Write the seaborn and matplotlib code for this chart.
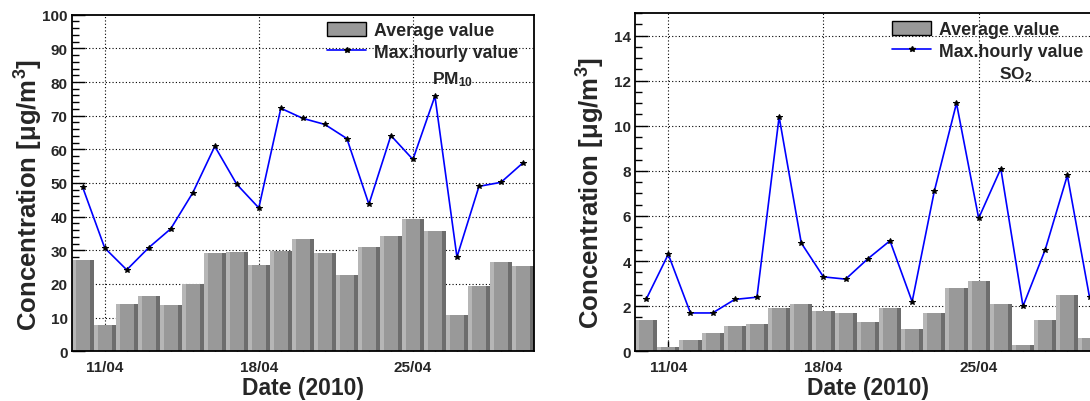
import numpy as np
import pandas as pd
import matplotlib
matplotlib.use("Agg")
import matplotlib.pyplot as plt
from matplotlib.patches import Patch
from matplotlib.lines import Line2D
from matplotlib.ticker import MultipleLocator, FixedLocator
import seaborn as sns

# Daily series, 10 April to 30 April 2010
days = ["10/04", "11/04", "12/04", "13/04", "14/04", "15/04", "16/04",
        "17/04", "18/04", "19/04", "20/04", "21/04", "22/04", "23/04",
        "24/04", "25/04", "26/04", "27/04", "28/04", "29/04", "30/04"]
labelled_days = ["11/04", "18/04", "25/04"]

pm10_avg = [27.1, 7.8, 14.1, 16.4, 13.8, 20.0, 29.2, 29.5, 25.6, 29.9, 33.4,
            29.2, 22.7, 31.0, 34.3, 39.3, 35.7, 10.8, 19.4, 26.5, 25.3]
pm10_max = [48.7, 30.7, 24.2, 30.8, 36.4, 47.1, 60.9, 49.6, 42.6, 72.2, 69.2,
            67.4, 63.2, 43.7, 64.1, 57.0, 75.8, 28.0, 49.0, 50.2, 56.0]
so2_avg = [1.4, 0.2, 0.5, 0.8, 1.1, 1.2, 1.9, 2.1, 1.8, 1.7, 1.3,
           1.9, 1.0, 1.7, 2.8, 3.1, 2.1, 0.3, 1.4, 2.5, 0.6]
so2_max = [2.3, 4.3, 1.7, 1.7, 2.3, 2.4, 10.4, 4.8, 3.3, 3.2, 4.1,
           4.9, 2.2, 7.1, 11.0, 5.9, 8.1, 2.0, 4.5, 7.8, 2.4]

legend_labels = ["Average value", "Max.hourly value"]

sns.set_style("white")
plt.rcParams["font.family"] = ["Liberation Sans", "DejaVu Sans"]
plt.rcParams["font.weight"] = "bold"
plt.rcParams["mathtext.fontset"] = "custom"
plt.rcParams["mathtext.rm"] = "Liberation Sans:bold"
plt.rcParams["mathtext.bf"] = "Liberation Sans:bold"
plt.rcParams["mathtext.it"] = "Liberation Sans:bold"
plt.rcParams["mathtext.default"] = "rm"

MID, LIGHT, DARK = "#999999", "#b6b6b6", "#6d6d6d"
EDGE_W = 0.18
LEG_FS = 12.8

W, H = 1090, 402
fig = plt.figure(figsize=(W / 100, H / 100), dpi=100)
fig.patch.set_facecolor("white")


def draw_panel(ax, avg, peak, ymax, ymajor, yminor, species, species_xy,
               legend_xy, ylabel_x):
    pos = np.arange(len(days))
    df = pd.DataFrame({"day": days, "avg": avg})
    sns.barplot(data=df, x="day", y="avg", color=MID, saturation=1,
                width=1.0, errorbar=None, linewidth=0, ax=ax, zorder=2)
    # shaded left / right faces of each bar
    ax.bar(pos - 0.5 + EDGE_W / 2, avg, width=EDGE_W, color=LIGHT,
           linewidth=0, zorder=2.1)
    ax.bar(pos + 0.5 - EDGE_W / 2, avg, width=EDGE_W, color=DARK,
           linewidth=0, zorder=2.1)
    sns.lineplot(x=pos, y=peak, ax=ax, color="#0000ff", linewidth=1.2,
                 marker="*", markersize=4, markerfacecolor="black",
                 markeredgecolor="black", zorder=4)

    ax.set_xlim(-0.5, len(days) - 0.5)
    ax.set_ylim(0, ymax)

    major_x = [days.index(d) for d in labelled_days]
    ax.xaxis.set_major_locator(FixedLocator(major_x))
    ax.xaxis.set_minor_locator(FixedLocator(pos))
    ax.set_xticklabels(labelled_days)
    ax.yaxis.set_major_locator(MultipleLocator(ymajor))
    ax.yaxis.set_minor_locator(MultipleLocator(yminor))

    # dotted grid behind the bars
    grid_kw = dict(color="black", linewidth=0.8, linestyle=(0, (1, 2)),
                   zorder=1)
    for y in np.arange(ymajor, ymax, ymajor):
        if 0 < y < ymax:
            ax.axhline(y, **grid_kw)
    for x in major_x:
        ax.axvline(x, **grid_kw)

    ax.tick_params(axis="both", which="both", direction="in",
                   left=True, bottom=True, right=False, top=False,
                   width=1, color="black")
    ax.tick_params(axis="y", which="major", length=9.4, pad=3, labelsize=11)
    ax.tick_params(axis="y", which="minor", length=4.8)
    ax.tick_params(axis="x", which="major", length=7, pad=6, labelsize=11)
    ax.tick_params(axis="x", which="minor", length=3.4)
    for s in ax.spines.values():
        s.set_linewidth(1.3)
        s.set_color("black")
        s.set_visible(True)

    ax.set_xlabel("Date (2010)", fontsize=16.5, fontweight="bold")
    ax.xaxis.set_label_coords(0.5, -0.074)
    ax.set_ylabel("Concentration [μg/m$^{3}$]", fontsize=18.5,
                  fontweight="bold", ha="right")
    ax.yaxis.set_label_coords(ylabel_x, 0.872)

    ax.text(species_xy[0], species_xy[1], species, transform=ax.transAxes,
            ha="center", va="baseline", fontsize=12.5, fontweight="bold")

    handles = [
        Patch(facecolor=MID, edgecolor="black", linewidth=1.0),
        Line2D([], [], color="#0000ff", linewidth=1.2, marker="*",
               markersize=4, markerfacecolor="black", markeredgecolor="black"),
    ]
    ax.legend(handles=handles, labels=legend_labels, loc="upper left",
              bbox_to_anchor=legend_xy, bbox_transform=fig.transFigure,
              frameon=False, borderpad=0, borderaxespad=0, numpoints=1,
              handlelength=2.2, handleheight=0.9, handletextpad=0.42,
              labelspacing=0.25, prop={"size": LEG_FS, "weight": "bold"})


ax1 = fig.add_axes([71.7 / W, (H - 352.3) / H, 462.3 / W, 336.6 / H])
draw_panel(ax1, pm10_avg, pm10_max, 100, 10, 2, "PM$_{10}$",
           (0.824, 0.795), (327.3 / W, (H - 22.5) / H), -0.058)

ax2 = fig.add_axes([635 / W, (H - 352.3) / H, 465.6 / W, 338.3 / H])
draw_panel(ax2, so2_avg, so2_max, 15, 2, 0.5, "SO$_{2}$",
           (0.818, 0.808), (892.3 / W, (H - 21.5) / H), -0.060)

fig.savefig("out.png", dpi=100, facecolor="white")
